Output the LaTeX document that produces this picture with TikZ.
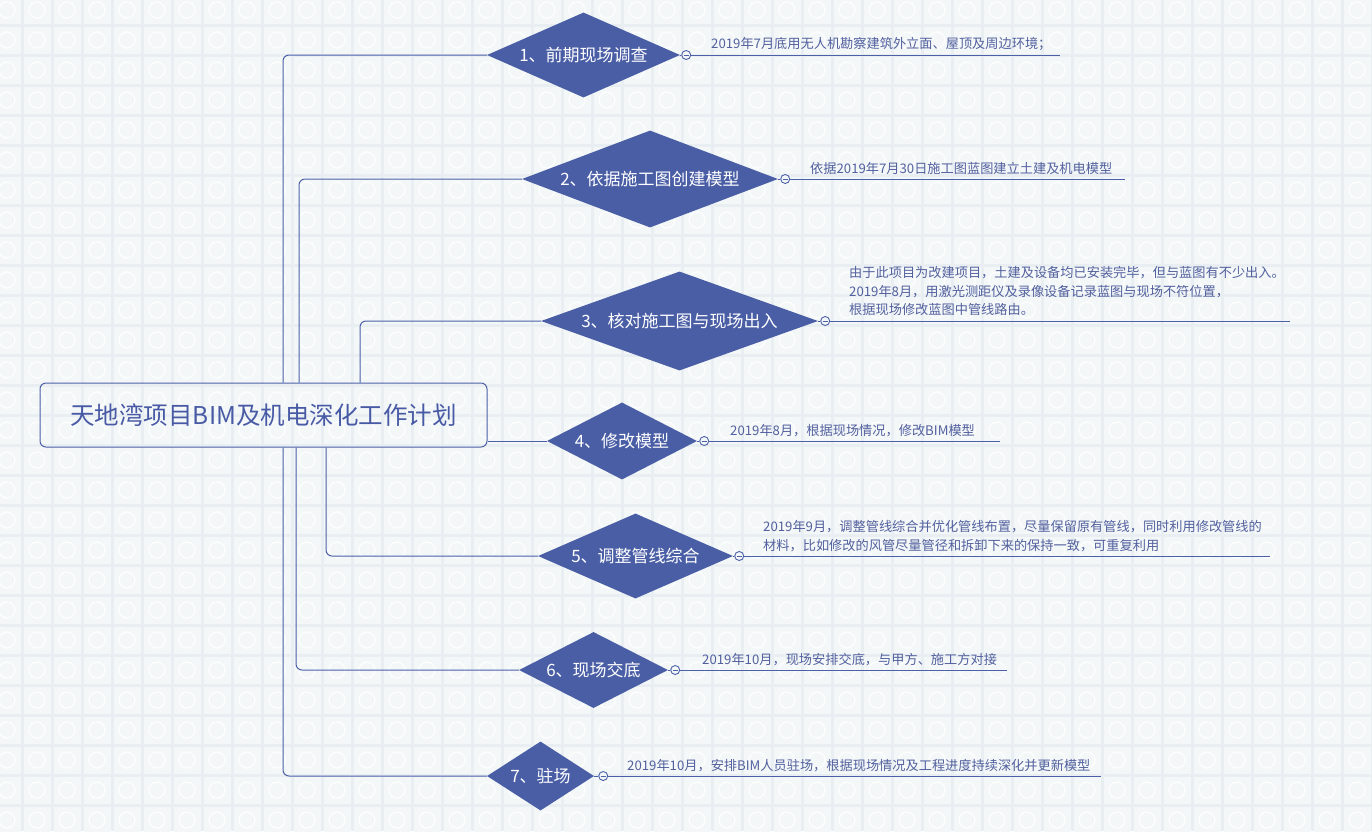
\documentclass[tikz,border=0pt]{standalone}
\usepackage{fontspec}
\setmainfont{Noto Sans CJK SC}
\usetikzlibrary{shapes.geometric}
\definecolor{dia}{RGB}{74,94,166}
\definecolor{ln}{RGB}{76,96,168}
\definecolor{notec}{RGB}{82,96,158}
\definecolor{titlec}{RGB}{72,90,165}
\definecolor{bgc}{RGB}{232,238,241}
\definecolor{tilec}{RGB}{243,247,248}
\definecolor{orn}{RGB}{252,253,253}
\begin{document}
\begin{tikzpicture}[x=1pt,y=-1pt,
  conn/.style={draw=ln, line width=1pt, rounded corners=6pt},
  branch/.style={diamond, fill=dia, text=white, inner sep=0pt, font=\fontsize{17}{20}\selectfont},
  note/.style={text=notec, inner sep=0pt, anchor=south west, align=left, font=\fontsize{13.2}{18.5}\selectfont},
  knob/.style={circle, draw=ln, fill=tilec, line width=0.9pt, minimum size=9pt, inner sep=0pt,
    path picture={\draw[ln, line width=0.9pt] ([xshift=2pt]path picture bounding box.west) -- ([xshift=-2pt]path picture bounding box.east);}},
  uline/.style={draw=ln, line width=1pt}]
\useasboundingbox (0,0) rectangle (1372,831);
% background tiles
\begin{scope}
\clip (0,0) rectangle (1372,831);
\fill[bgc] (0,0) rectangle (1372,831);
\foreach \i in {-1,...,45}{\foreach \j in {-1,...,27}{
  \fill[tilec] ({22+30*\i+1.5},{25+30*\j+1.5}) rectangle ++(27,27);
  \draw[orn, line width=1.6pt] ({22+30*\i+15},{25+30*\j+15}) circle (8pt);
}}
\end{scope}

% root
\node[draw=ln, line width=1pt, rounded corners=6pt, minimum width=447pt, minimum height=64pt,
  text=titlec, font=\fontsize{24.5}{28}\selectfont] (root) at (263.5,415) {天地湾项目BIM及机电深化工作计划};

% branches
\node[branch, minimum width=193pt, minimum height=85pt, aspect=2.27] (d1) at (583.5,55) {1、前期现场调查};
\node[branch, minimum width=256pt, minimum height=97pt, aspect=2.64] (d2) at (650,179) {2、依据施工图创建模型};
\node[branch, minimum width=277pt, minimum height=99pt, aspect=2.8] (d3) at (679.5,321) {3、核对施工图与现场出入};
\node[branch, minimum width=150pt, minimum height=77pt, aspect=1.95] (d4) at (622,441) {4、修改模型};
\node[branch, minimum width=195pt, minimum height=85pt, aspect=2.29] (d5) at (635.5,556) {5、调整管线综合};
\node[branch, minimum width=149pt, minimum height=76pt, aspect=1.96] (d6) at (593.5,670) {6、现场交底};
\node[branch, minimum width=107pt, minimum height=69pt, aspect=1.55] (d7) at (540.5,776) {7、驻场};

% connector columns
\coordinate (v1) at (283,0);
\coordinate (v2) at (299,0);
\coordinate (v3) at (360,0);
\coordinate (v5) at (326,0);
\coordinate (v6) at (296,0);
\coordinate (v7) at (283,0);

\draw[conn] (root.north -| v1) |- (d1.west);
\draw[conn] (root.north -| v2) |- (d2.west);
\draw[conn] (root.north -| v3) |- (d3.west);
\draw[conn] (root.east |- d4.west) -- (d4.west);
\draw[conn] (root.south -| v5) |- (d5.west);
\draw[conn] (root.south -| v6) |- (d6.west);
\draw[conn] (root.south -| v7) |- (d7.west);

% knobs and underlines
\node[knob] (k1) at ([xshift=6pt]d1.east) {};
\node[knob] (k2) at ([xshift=7pt]d2.east) {};
\node[knob] (k3) at ([xshift=7pt]d3.east) {};
\node[knob] (k4) at ([xshift=7pt]d4.east) {};
\node[knob] (k5) at ([xshift=6pt]d5.east) {};
\node[knob] (k6) at ([xshift=7pt]d6.east) {};
\node[knob] (k7) at ([xshift=9pt]d7.east) {};

\coordinate (e1) at (1060,55);
\coordinate (e2) at (1125,179);
\coordinate (e3) at (1290,321);
\coordinate (e4) at (1000,441);
\coordinate (e5) at (1270,556);
\coordinate (e6) at (1007,670);
\coordinate (e7) at (1101,776);

\foreach \n in {1,...,7}{
  \draw[uline] (d\n.east) -- (k\n.west);
  \draw[uline] (k\n.east) -- (e\n);
}

% notes
\node[note] (n1) at (711,51) {2019年7月底用无人机勘察建筑外立面、屋顶及周边环境；};
\node[note] (n2) at (810,175) {依据2019年7月30日施工图蓝图建立土建及机电模型};
\node[note] (n3) at (849,316) {由于此项目为改建项目，土建及设备均已安装完毕，但与蓝图有不少出入。\\2019年8月，用激光测距仪及录像设备记录蓝图与现场不符位置，\\根据现场修改蓝图中管线路由。};
\node[note] (n4) at (730,437) {2019年8月，根据现场情况，修改BIM模型};
\node[note] (n5) at (763,552) {2019年9月，调整管线综合并优化管线布置，尽量保留原有管线，同时利用修改管线的\\材料，比如修改的风管尽量管径和拆卸下来的保持一致，可重复利用};
\node[note] (n6) at (702,666) {2019年10月，现场安排交底，与甲方、施工方对接};
\node[note] (n7) at (627,772) {2019年10月，安排BIM人员驻场，根据现场情况及工程进度持续深化并更新模型};
\end{tikzpicture}
\end{document}
